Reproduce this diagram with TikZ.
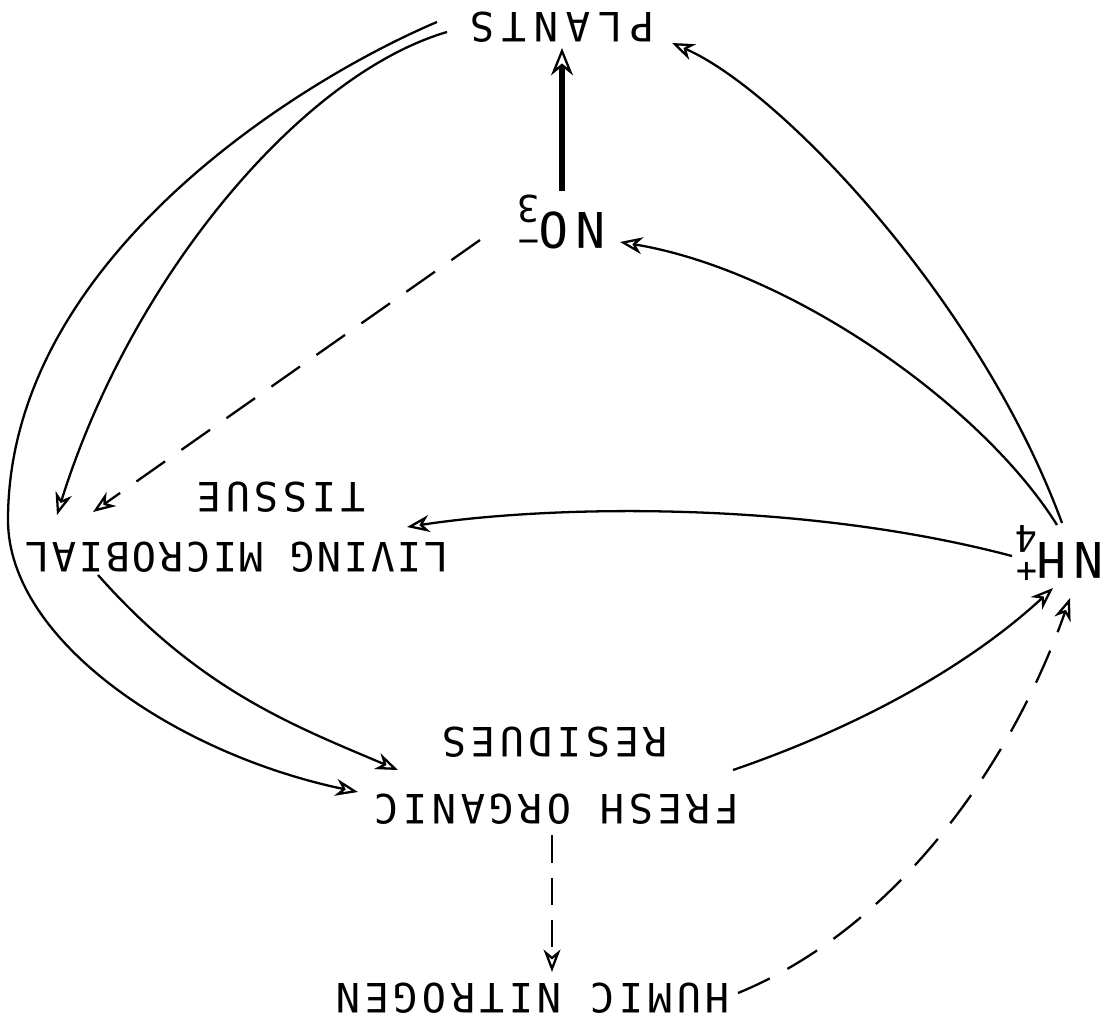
\documentclass[tikz,border=0pt]{standalone}
\usepackage{fontspec}
\newfontfamily\typefont[LetterSpace=11]{DejaVu Sans Mono}
\newfontfamily\tighttypefont[LetterSpace=6]{DejaVu Sans Mono}
\newfontfamily\widetypefont[LetterSpace=19]{DejaVu Sans Mono}
\newfontfamily\formulafont[LetterSpace=15]{DejaVu Sans Mono}
\usetikzlibrary{arrows.meta, calc}
\newcommand{\chemion}[3]{#1\rlap{\raisebox{-0.34cm}{\fontsize{21}{21}\selectfont #2}}\raisebox{0.36cm}{\fontsize{20}{20}\selectfont #3}}

\begin{document}
\begin{tikzpicture}[x=0.02cm, y=-0.02cm,
    pool/.style={rotate=180, inner sep=3pt, font=\typefont\fontsize{23}{26}\selectfont},
    ion/.style={rotate=180, inner sep=2pt, font=\formulafont\fontsize{28}{30}\selectfont},
    flow/.style={line width=1.3pt, -{Stealth[open, length=4.5mm, width=3.4mm, inset=1.4mm]}},
    dashflow/.style={flow, dash pattern=on 0.7cm off 0.4cm},
    mainflow/.style={line width=3.2pt, -{Stealth[open, line width=1.3pt, length=5.5mm, width=4.4mm, inset=1.8mm]}}
]
    \useasboundingbox (0,0) rectangle (1110,1019);

    % nitrogen pools (the sheet is printed upside down)
    \node[pool, font=\widetypefont\fontsize{23}{26}\selectfont] (plants) at (562,27) {PLANTS};
    \node[ion] (nitrate) at (562,222) {\chemion{NO}{3}{−}};
    \node[ion] (ammonium) at (1060,553) {\chemion{NH}{4}{+}};
    \node[pool, font=\tighttypefont\fontsize{23}{26}\selectfont] (microbes) at (237,557) {LIVING MICROBIAL};
    \node[pool] (tissue) at (281,497) {TISSUE};
    \node[pool] (fresh) at (557,809) {FRESH ORGANIC};
    \node[pool] (residues) at (555,742) {RESIDUES};
    \node[pool] (humic) at (533,998) {HUMIC NITROGEN};
    \coordinate (leftbend) at (8,520);

    % transfers
    \draw[mainflow] (nitrate) -- (plants);
    \draw[flow] ($(ammonium)+(2,-30)$) .. controls (980,300) and (780,90) .. ($(plants)+(110,16)$);
    \draw[flow] ($(ammonium)+(-3,-28)$) .. controls (982,405) and (790,270) .. ($(nitrate)+(58,20)$);
    \draw[flow] ($(ammonium)+(-48,3)$) .. controls (800,500) and (550,505) .. ($(microbes)+(170,-30)$);
    \draw[flow] ($(plants)+(-115,5)$) .. controls (300,75) and (130,280) .. ($(microbes)+(-180,-42)$);
    \draw[flow] ($(plants)+(-125,-5)$) .. controls (300,80) and (8,260) .. (leftbend)
        .. controls (8,640) and (176,754) .. ($(fresh)+(-199,-17)$);
    \draw[dashflow] ($(nitrate)+(-82,18)$) -- ($(microbes)+(-144,-45)$);
    \draw[flow] ($(microbes)+(-139,18)$) .. controls (200,690) and (292,725) .. ($(fresh)+(-159,-39)$);
    \draw[flow] ($(fresh)+(176,-39)$) .. controls (867,724) and (973,662) .. ($(ammonium)+(-7,35)$);
    \draw[dashflow] ($(humic)+(205,-5)$) .. controls (894,929) and (1010,768) .. ($(ammonium)+(10,45)$);
    \draw[dashflow, dash pattern=on 0.55cm off 0.3cm] ($(fresh)+(-5,26)$) -- ($(humic)+(19,-26)$);
\end{tikzpicture}
\end{document}
